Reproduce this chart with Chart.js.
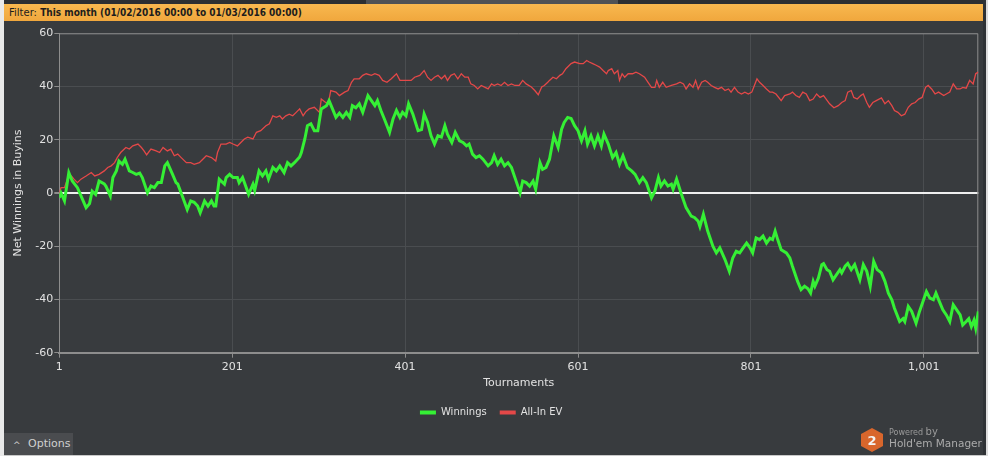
<!DOCTYPE html>
<html lang="en">
  <head>
    <meta charset="UTF-8" />
    <title>Winnings graph</title>
    <script src="https://cdn.jsdelivr.net/npm/chart.js@4.4.1/dist/chart.umd.min.js"></script>
    <style>
      html, body { margin: 0; padding: 0; }
      body {
        width: 988px; height: 456px; overflow: hidden; position: relative;
        background: #383b3e; font-family: "DejaVu Sans", Verdana, sans-serif;
      }
      .edge-left { position: absolute; left: 0; top: 0; width: 4px; height: 456px; background: #e9e9e9; }
      .edge-right { position: absolute; left: 983px; top: 0; width: 3px; height: 456px; background: #2f3235; }
      .edge-right2 { position: absolute; left: 986px; top: 0; width: 2px; height: 456px; background: #dcdcdc; }
      .edge-bottom { position: absolute; left: 4px; top: 455px; width: 982px; height: 1px; background: #c9c9c9; }
      .top-strip { position: absolute; left: 4px; top: 0; width: 979px; height: 4px; background: #2c2f32; }
      .top-tab { position: absolute; left: 366px; top: 0; width: 252px; height: 4px; background: #4f5255; }
      .filter {
        position: absolute; left: 4px; top: 4px; width: 979px; height: 17px;
        background: linear-gradient(#f8b84f, #f0a73d);
        color: #1d1d1d; font-size: 10px; line-height: 17px; padding-left: 5px; box-sizing: border-box;
        white-space: nowrap;
      }
      .filter b { font-family: "DejaVu Sans Condensed", "DejaVu Sans", sans-serif; }
      #wrap { position: absolute; left: 4px; top: 22px; width: 982px; height: 410px; }
      .options {
        position: absolute; left: 4px; top: 433px; width: 69px; height: 22px;
        background: #4a4c4f; color: #d0d0d0; font-size: 11px; line-height: 22px;
      }
      .options .caret { position: absolute; left: 9px; top: 1px; font-size: 9px; }
      .options .txt { position: absolute; left: 24px; }
      .brand { position: absolute; left: 860px; top: 426px; width: 128px; height: 28px; }
      .brand svg { position: absolute; left: 0; top: 1px; }
      .brand .pw { position: absolute; left: 29px; top: 0; font-size: 8px; color: #9a9a9a; }
      .brand .pw span { font-size: 10px; }
      .brand .hm { position: absolute; left: 29px; top: 11px; font-size: 10.5px; color: #ababab; white-space: nowrap; }
    </style>
  </head>
  <body>
    <div class="edge-left"></div>
    <div class="top-strip"></div>
    <div class="top-tab"></div>
    <div class="filter">Filter: <b>This month (01/02/2016 00:00 to 01/03/2016 00:00)</b></div>
    <div class="edge-right"></div>
    <div class="edge-right2"></div>
    <div class="edge-bottom"></div>

    <div id="wrap"><canvas id="chart" width="982" height="410"></canvas></div>

    <div class="options"><span class="caret">&#94;</span><span class="txt">Options</span></div>
    <div class="brand">
      <svg width="24" height="26" viewBox="0 0 24 26">
        <polygon points="12,1 23,7 23,19 12,25 1,19 1,7" fill="#d8662c" />
        <text x="12" y="18" text-anchor="middle" font-family="DejaVu Sans" font-weight="bold" font-size="13" fill="#f4f4f4">2</text>
      </svg>
      <div class="pw">Powered <span>by</span></div>
      <div class="hm">Hold'em Manager</div>
    </div>

    <script>
      // tournament number -> net winnings (buyins)
      const winTourn = [
        1, 3, 7, 12, 16, 22, 32, 36, 39, 43,
        47, 53, 55, 60, 63, 67, 70, 74, 77, 82,
        86, 90, 94, 97, 103, 107, 111, 115, 119, 123,
        126, 132, 136, 138, 144, 149, 153, 157, 161, 164,
        169, 173, 177, 180, 182, 186, 192, 194, 198, 202,
        207, 209, 213, 220, 225, 227, 232, 236, 240, 243,
        248, 252, 256, 261, 265, 269, 273, 279, 281, 285,
        288, 292, 296, 300, 304, 310, 313, 317, 321, 325,
        329, 333, 337, 340, 344, 348, 352, 358, 362, 366,
        369, 373, 377, 383, 387, 391, 395, 398, 402, 405,
        410, 416, 420, 423, 427, 431, 435, 439, 443, 447,
        450, 455, 459, 464, 468, 472, 475, 479, 483, 487,
        491, 497, 501, 504, 508, 512, 516, 520, 524, 530,
        534, 537, 541, 545, 549, 552, 557, 560, 564, 568,
        573, 578, 582, 585, 589, 593, 597, 601, 605, 609,
        612, 616, 620, 624, 628, 631, 636, 641, 645, 649,
        653, 658, 663, 667, 672, 676, 680, 686, 690, 694,
        697, 701, 705, 709, 711, 715, 720, 726, 732, 736,
        740, 742, 746, 751, 757, 761, 765, 771, 776, 780,
        784, 788, 792, 796, 800, 803, 807, 811, 815, 819,
        823, 826, 829, 832, 836, 842, 846, 849, 855, 859,
        863, 867, 870, 873, 875, 879, 883, 885, 889, 892,
        896, 900, 904, 906, 910, 913, 917, 921, 925, 927,
        931, 935, 939, 943, 947, 952, 956, 960, 964, 967,
        973, 977, 979, 983, 987, 992, 996, 1000, 1004, 1008,
        1012, 1015, 1019, 1023, 1027, 1031, 1035, 1039, 1043, 1046,
        1050, 1053, 1056, 1059, 1061, 1064
      ];
      const winValues = [
        -1.8, 0, -3, 7.7, 4.5, 2, -5.5, -4, 0.7, -0.5,
        4.5, 3.4, 2.5, -1.1, 5.8, 8.3, 12, 10.8, 12.7, 8.3,
        7.7, 7, 7.5, 5.8, 0.1, 2.6, 2, 3.9, 3.9, 10.2,
        11.4, 7, 3.9, 3.4, -1.8, -6.2, -3, -3.5, -4.9, -7.4,
        -3, -4.9, -3, -4.9, -4.9, 5.2, 3.3, 5.8, 7, 5.8,
        5.8, 3.9, 5.8, -0.5, 3.3, 1, 8.3, 6.4, 8.3, 5.2,
        9.6, 8.3, 10.2, 7.7, 11.4, 10.2, 11.4, 13.5, 15.2, 20.3,
        25.3, 26, 23.4, 23.4, 31.6, 32.8, 34.7, 31.6, 28.4, 30,
        28.4, 30.3, 28.4, 32.8, 32, 33.5, 30.3, 36.6, 34.7, 32.8,
        34.7, 31, 27.8, 22.8, 27.8, 31, 28.4, 30.3, 29, 33.5,
        29.6, 23.4, 23.8, 29.7, 26.5, 21.5, 18.4, 21.5, 21, 25.3,
        22.1, 19, 22.8, 19.6, 19, 17.7, 18.4, 14.6, 13.3, 14,
        12.7, 10.2, 11.4, 14, 10.8, 12.7, 10.2, 11.4, 9.6, 3.9,
        0.1, 4.5, 3.9, 2.6, 4.5, 1.4, 11.4, 8.9, 9.6, 12.7,
        21.5, 17.1, 24, 26.5, 28.4, 28, 25.3, 23.4, 19.6, 23.4,
        18.4, 21.5, 17.7, 21.5, 17.7, 22.1, 18.4, 13.3, 15.2, 10.8,
        14, 9.6, 8.3, 7, 3.9, 5.8, 3.9, -1.8, 0.8, 5.8,
        2.6, 4.5, 2.6, 3.3, 1.4, 5.2, 0.1, -5.5, -8.7, -9.3,
        -10.6, -12.6, -8, -14.3, -20, -22.5, -20.6, -25, -29.4, -24.4,
        -21.9, -22.5, -20.6, -18.8, -20.6, -22.5, -16.9, -17.5, -16.2, -18.8,
        -17, -17.5, -14.3, -17.5, -21.3, -22.5, -24.4, -27.5, -33.2, -36.3,
        -35, -36, -37.6, -33.2, -35, -32, -26.9, -26.5, -28.8, -29.4,
        -32.6, -30.7, -28.8, -30, -27.5, -26.5, -28.8, -26.9, -30.7, -32.6,
        -26.9, -29.4, -35, -25.7, -28.8, -30, -33.2, -37.6, -40.1, -43.3,
        -48.3, -47.2, -48.3, -42.6, -44.5, -48.9, -44.5, -40.8, -37, -39.5,
        -40.1, -37.6, -40.8, -43.9, -45.8, -48.3, -42, -43.9, -45.8, -49.6,
        -48.3, -47.2, -50.2, -47.8, -50.8, -44.5
      ];

      // tournament number -> all-in EV (buyins)
      const evTourn = [
        1, 3, 7, 11, 15, 18, 22, 26, 32, 38,
        42, 47, 53, 57, 61, 65, 68, 72, 78, 82,
        86, 92, 96, 99, 102, 107, 113, 117, 121, 126,
        130, 134, 138, 142, 148, 153, 157, 163, 167, 171,
        177, 182, 184, 188, 194, 198, 202, 207, 211, 215,
        219, 225, 229, 234, 240, 244, 248, 252, 256, 259,
        263, 267, 271, 275, 279, 283, 286, 290, 296, 302,
        304, 308, 312, 315, 321, 325, 331, 335, 339, 342,
        348, 352, 356, 362, 366, 371, 375, 380, 385, 391,
        395, 398, 402, 408, 412, 418, 423, 427, 431, 435,
        439, 443, 447, 450, 454, 458, 462, 466, 470, 474,
        477, 481, 485, 489, 493, 497, 501, 504, 508, 512,
        516, 520, 524, 528, 533, 537, 541, 547, 551, 555,
        559, 562, 566, 568, 572, 576, 580, 583, 587, 593,
        597, 603, 607, 611, 614, 618, 622, 626, 630, 634,
        636, 640, 643, 647, 649, 652, 655, 659, 664, 668,
        672, 678, 682, 686, 690, 692, 695, 699, 703, 709,
        715, 719, 723, 726, 730, 734, 737, 740, 744, 748,
        751, 755, 759, 763, 767, 771, 775, 778, 782, 786,
        790, 794, 798, 802, 805, 808, 811, 815, 819, 823,
        826, 830, 836, 840, 846, 849, 853, 857, 861, 865,
        869, 873, 877, 881, 885, 888, 892, 897, 902, 906,
        910, 913, 917, 920, 924, 928, 931, 935, 938, 942,
        946, 952, 956, 960, 964, 967, 971, 975, 979, 983,
        987, 991, 995, 999, 1003, 1006, 1010, 1014, 1018, 1024,
        1027, 1031, 1035, 1039, 1043, 1046, 1050, 1054, 1058, 1061,
        1064
      ];
      const evValues = [
        0, 2, 2, 5.8, 6.4, 5.2, 3.9, 5.2, 6.4, 7.7,
        6.4, 7, 8.3, 9.6, 10.2, 11.4, 13.3, 15.2, 17.1, 16.5,
        17.7, 18.4, 17.1, 15.8, 14.3, 16.5, 15.8, 15.2, 17.1, 15.8,
        16.5, 14, 14.6, 13.3, 11.4, 11.4, 10.8, 11.4, 12.7, 14,
        13.3, 12, 15.2, 18.4, 18.4, 19, 18.4, 17.7, 19, 20.3,
        21, 20.3, 22.8, 23.4, 25.3, 26, 29, 28.4, 29, 27.8,
        29, 29.6, 29, 30.3, 31.6, 29, 30.5, 31.6, 32.2, 30.3,
        35.3, 34.3, 33.5, 38.5, 37.9, 36.6, 37.9, 38.5, 41.6, 42.9,
        42.9, 44.2, 44.8, 44.2, 44.8, 44.2, 42.3, 41.6, 42.9, 44.8,
        42.3, 42.3, 42.3, 42.3, 43.5, 44.2, 46, 43.5, 42.3, 43.5,
        44.2, 42.9, 44.2, 42.3, 44.2, 44.8, 42.9, 44.8, 43.5, 43.5,
        41, 40.4, 39.1, 40.4, 39.8, 39.1, 41, 40.4, 41, 40.4,
        41.6, 40.4, 41, 40.4, 40.4, 42.3, 41, 39.8, 38.5, 36.9,
        39.8, 40.4, 41.6, 42.3, 43.5, 42.9, 44.2, 44.8, 46.7, 48.6,
        49.2, 48.6, 48.6, 49.8, 49.2, 48.6, 48, 47.3, 46, 44.8,
        46, 46.7, 44.8, 46, 42.3, 44.8, 43.5, 44.8, 44.8, 45.4,
        44.8, 43.5, 41.6, 39.7, 39.7, 42.3, 39.7, 41.6, 39.7, 40.4,
        41, 41.6, 41, 39.1, 41, 39.7, 42.3, 39.1, 41.6, 42.3,
        41.6, 40.4, 39.7, 39.1, 39.7, 38.5, 39.1, 37.9, 39.7, 37.9,
        37.2, 37.9, 37.2, 37.9, 40.4, 42.9, 41.6, 40.4, 39.1, 37.9,
        37.9, 37.2, 34.7, 36.6, 37.2, 37.9, 36.6, 35.9, 37.9, 37.2,
        34.7, 35.3, 37.2, 35.9, 36.6, 35.3, 33.5, 32, 32.8, 34,
        34.7, 37.9, 38.5, 35.9, 35.3, 36.6, 37.2, 34, 32.2, 34,
        34.7, 35.7, 33.5, 34.7, 32.8, 31, 30.3, 29, 29.6, 32.2,
        33.5, 34, 35.3, 35.9, 39.7, 40.4, 39.1, 37.2, 37.9, 36.6,
        37.2, 37.9, 41, 39.1, 39.1, 39.7, 39.4, 42.3, 41, 44.8,
        45.4
      ];

      const xTicks = [1, 201, 401, 601, 801, 1001];
      const yTicks = [-60, -40, -20, 0, 20, 40, 60];

      const gridColor = "#4a4d50";
      const axisColor = "#8d8d8d";
      const textColor = "#e2e2e2";

      // light frame on the top and right of the plot
      const frame = {
        id: "frame",
        beforeDatasetsDraw(chart) {
          const { ctx, chartArea: a } = chart;
          ctx.save();
          ctx.strokeStyle = axisColor;
          ctx.lineWidth = 1;
          ctx.beginPath();
          ctx.moveTo(a.left, a.top + 0.5);
          ctx.lineTo(a.right - 0.5, a.top + 0.5);
          ctx.lineTo(a.right - 0.5, a.bottom);
          ctx.stroke();
          ctx.restore();
        },
      };

      new Chart(document.getElementById("chart").getContext("2d"), {
        type: "line",
        data: {
          datasets: [
            {
              label: "Winnings",
              data: winTourn.map((t, i) => ({ x: t, y: winValues[i] })),
              borderColor: "#35f035",
              backgroundColor: "#35f035",
              borderWidth: 3,
              pointRadius: 0,
              tension: 0,
              order: 1,
            },
            {
              label: "All-In EV",
              data: evTourn.map((t, i) => ({ x: t, y: evValues[i] })),
              borderColor: "#e44848",
              backgroundColor: "#e44848",
              borderWidth: 1.3,
              pointRadius: 0,
              tension: 0,
              order: 2,
            },
          ],
        },
        options: {
          responsive: false,
          animation: false,
          devicePixelRatio: 1,
          layout: { padding: { left: 0, right: 7.7, top: 11.3, bottom: 4.5 } },
          plugins: {
            tooltip: { enabled: false },
            legend: {
              position: "bottom",
              labels: {
                color: textColor,
                font: { family: "DejaVu Sans", size: 10 },
                boxWidth: 16,
                boxHeight: 4,
                padding: 13,
                generateLabels: (chart) =>
                  Chart.defaults.plugins.legend.labels
                    .generateLabels(chart)
                    .map((l) => ({ ...l, lineWidth: 0, fillStyle: l.strokeStyle })),
              },
            },
          },
          scales: {
            x: {
              type: "linear",
              min: 1,
              max: 1064,
              afterBuildTicks: (s) => {
                s.ticks = xTicks.map((v) => ({ value: v }));
              },
              afterFit: (s) => {
                s.height = 41.8;
              },
              ticks: {
                color: textColor,
                font: { family: "DejaVu Sans", size: 11 },
                padding: 3,
                maxRotation: 0,
                autoSkip: false,
                callback: (v) => v.toLocaleString("en-US"),
              },
              grid: { color: gridColor, tickColor: axisColor, tickLength: 5 },
              border: { color: axisColor, width: 2 },
              title: {
                display: true,
                text: "Tournaments",
                color: textColor,
                font: { family: "DejaVu Sans", size: 11 },
                padding: { top: 0, bottom: 5 },
              },
            },
            y: {
              min: -60,
              max: 60,
              afterBuildTicks: (s) => {
                s.ticks = yTicks.map((v) => ({ value: v }));
              },
              afterFit: (s) => {
                s.width = 55.3;
              },
              ticks: {
                color: textColor,
                font: { family: "DejaVu Sans", size: 11 },
                padding: 1,
                callback: (v) => String(v),
              },
              grid: {
                color: (c) => (c.tick && c.tick.value === 0 ? "#efefef" : gridColor),
                lineWidth: (c) => (c.tick && c.tick.value === 0 ? 2 : 1),
                tickColor: axisColor,
                tickLength: 5,
              },
              border: { color: axisColor, width: 1 },
              title: {
                display: true,
                text: "Net Winnings in Buyins",
                color: textColor,
                font: { family: "DejaVu Sans", size: 11 },
                padding: { top: 7.4, bottom: 0 },
              },
            },
          },
        },
        plugins: [frame],
      });
    </script>
  </body>
</html>
